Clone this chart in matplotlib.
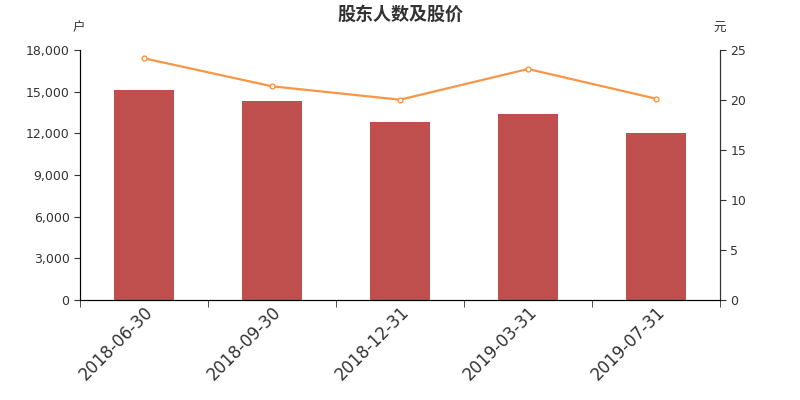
import numpy as np
import matplotlib.pyplot as plt

plt.rcParams['font.family'] = ['DejaVu Sans', 'Noto Sans CJK SC']

dates = ['2018-06-30', '2018-09-30', '2018-12-31', '2019-03-31', '2019-07-31']
holders = [15140, 14300, 12790, 13390, 12000]
price = [24.17, 21.37, 20.03, 23.1, 20.13]

fig = plt.figure(figsize=(8, 4), dpi=100)
ax = fig.add_axes([0.1, 0.25, 0.8, 0.625])
x = np.arange(len(dates))

ax.bar(x, holders, width=0.47, color='#c0504d', zorder=2)
ax.set_xlim(-0.5, len(dates) - 0.5)
ax.set_ylim(0, 18000)
ax.set_yticks(np.arange(0, 18001, 3000))
ax.set_yticklabels([f'{v:,}' for v in range(0, 18001, 3000)])
ax.set_xticks(x)
ax.set_xticklabels(dates, rotation=45, ha='right', rotation_mode='anchor', fontsize=12, color='#333333')
ax.tick_params(axis='x', length=0, pad=2)
ax.set_xticks(np.arange(-0.5, len(dates)), minor=True)
ax.tick_params(axis='x', which='minor', length=5, color='#333333')
ax.tick_params(axis='y', length=4, labelsize=9, colors='#333333')
ax.spines['top'].set_visible(False)
ax.spines['left'].set_color('#333333')
ax.spines['bottom'].set_color('#333333')
ax.spines['right'].set_color('#333333')

ax2 = ax.twinx()
ax2.plot(x, price, color='#f79646', lw=1.6, marker='o', markersize=3.5,
         markerfacecolor='white', markeredgecolor='#f79646', markeredgewidth=1, zorder=3)
ax2.set_ylim(0, 25)
ax2.set_yticks(np.arange(0, 26, 5))
ax2.tick_params(axis='y', length=4, labelsize=9, colors='#333333')
ax2.spines['top'].set_visible(False)
ax2.spines['right'].set_color('#333333')

fig.text(0.5, 0.965, '股东人数及股价', ha='center', va='center', fontsize=13, fontweight='bold',
         color='#333333', family='Noto Sans CJK SC')
fig.text(0.098, 0.93, '户', ha='center', va='center', fontsize=9, color='#333333', family='Noto Sans CJK SC')
fig.text(0.899, 0.93, '元', ha='center', va='center', fontsize=9, color='#333333', family='Noto Sans CJK SC')

fig.savefig('out.png', dpi=100)
